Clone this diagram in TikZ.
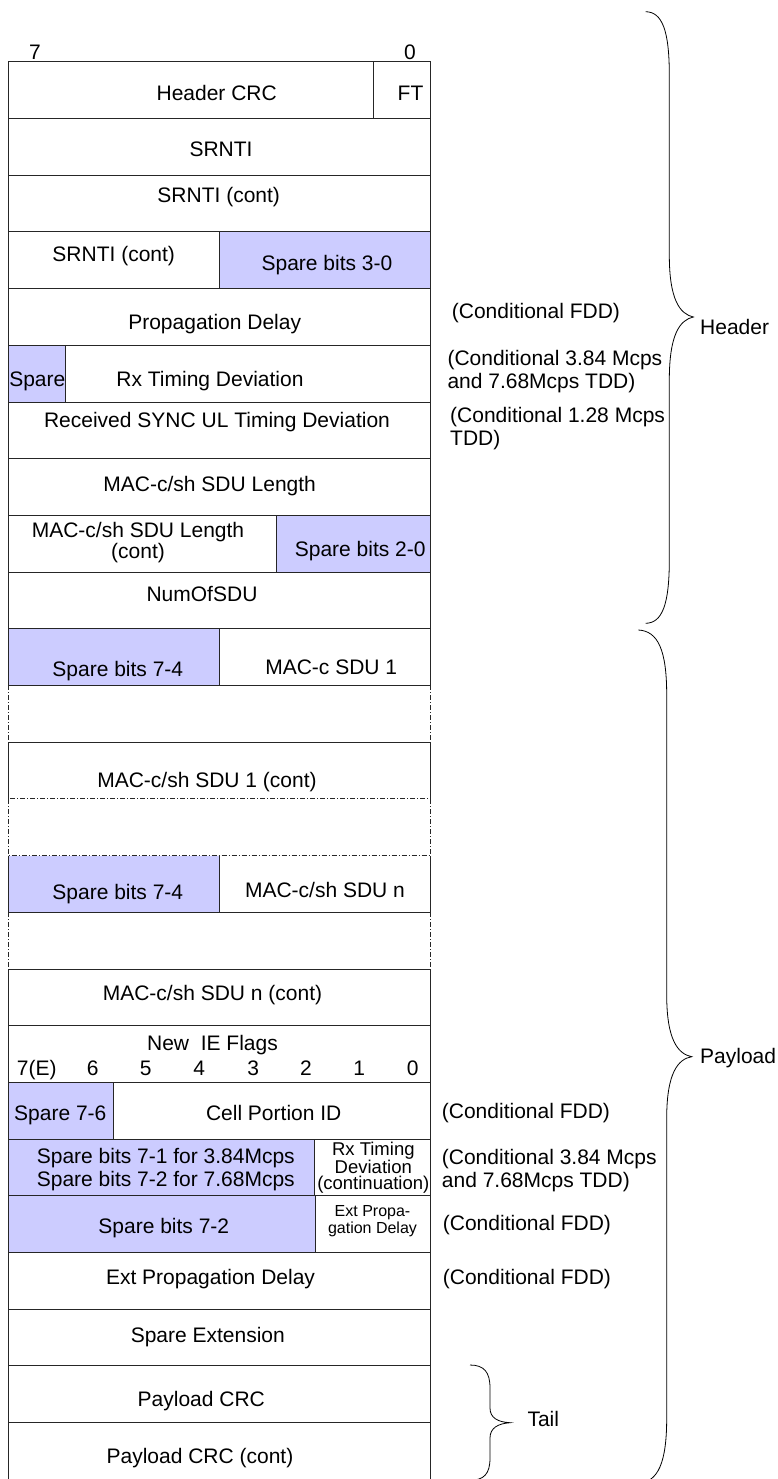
\documentclass[tikz,border=0pt]{standalone}
\usepackage{fontspec}
\setmainfont{Liberation Sans}
\definecolor{sparebg}{HTML}{CCCCFF}
\begin{document}
\begin{tikzpicture}[x=1pt,y=-1pt]
  \tikzstyle{cell}=[draw=black!85,line width=0.8pt]
  \tikzstyle{gap}=[draw=black!85,line width=0.8pt,dash pattern=on 5pt off 2pt on 1pt off 2pt]
  \tikzstyle{spare}=[fill=sparebg]
  \tikzstyle{field}=[anchor=base,inner sep=0pt,align=center,font=\fontsize{21}{21}\selectfont]
  \tikzstyle{narrow}=[anchor=base,inner sep=0pt,align=center,font=\fontsize{18.5}{16}\selectfont]
  \tikzstyle{tiny}=[anchor=base,inner sep=0pt,align=center,font=\fontsize{16}{16.5}\selectfont]
  \tikzstyle{note}=[anchor=base west,inner sep=0pt,align=left,font=\fontsize{21}{23}\selectfont]
  \tikzstyle{brace}=[draw=black,line width=0.8pt]
  \useasboundingbox (0,0) rectangle (777,1479);

  % spare fields
  \fill[spare] (219.3,231.8) rectangle (430,288.5);
  \fill[spare] (8.3,345.2) rectangle (65.7,401.9);
  \fill[spare] (276.7,515.3) rectangle (430,572);
  \fill[spare] (8.3,628.7) rectangle (219.3,685.4);
  \fill[spare] (8.3,855.5) rectangle (219.3,912.2);
  \fill[spare] (8.3,1082.3) rectangle (113.3,1139);
  \fill[spare] (8.3,1139) rectangle (314,1195.7);
  \fill[spare] (8.3,1195.7) rectangle (315.3,1252.4);

  % rows
  \foreach \t in {61.7,118.4,175.1,231.8,288.5,345.2,401.9,458.6,515.3,572.0,628.7,
                  968.9,1025.6,1082.3,1139.0,1195.7,1252.4,1309.1,1365.8,1422.5}
    \draw[cell] (8.3,\t) rectangle (430,\t+56.7);
  \draw[cell] (8.3,798.8) -- (8.3,742.1) -- (430,742.1) -- (430,798.8);
  \draw[cell] (8.3,855.5) -- (8.3,912.2) -- (430,912.2) -- (430,855.5);
  \draw[gap] (8.3,798.8) rectangle (430,855.5);
  \draw[gap] (8.3,685.4) -- (8.3,742.1) (430,685.4) -- (430,742.1);
  \draw[gap] (8.3,912.2) -- (8.3,968.9) (430,912.2) -- (430,968.9);

  % splits
  \draw[cell] (373.3,61.7) -- (373.3,118.4);
  \draw[cell] (219.3,231.8) -- (219.3,288.5);
  \draw[cell] (65.7,345.2) -- (65.7,401.9);
  \draw[cell] (276.7,515.3) -- (276.7,572);
  \draw[cell] (219.3,628.7) -- (219.3,685.4);
  \draw[cell] (219.3,855.5) -- (219.3,912.2);
  \draw[cell] (113.3,1082.3) -- (113.3,1139);
  \draw[cell] (314,1139) -- (314,1195.7);
  \draw[cell] (315.3,1195.7) -- (315.3,1252.4);

  % bit numbers
  \node[field] (msb) at (35,60) {7};
  \node[field] (lsb) at (410,60) {0};

  % header
  \node[field] (hcrc) at (216.7,100.7) {Header CRC};
  \node[field] (ft) at (410.5,100.7) {FT};
  \node[field] (srnti) at (221,156.7) {SRNTI};
  \node[field] (srntia) at (218.7,202.3) {SRNTI (cont)};
  \node[field] (srntib) at (113.7,261.7) {SRNTI (cont)};
  \node[field] (spareA) at (327,270) {Spare bits 3-0};
  \node[field] (pd) at (214.7,329.3) {Propagation Delay};
  \node[field] (spareB) at (37.3,386) {Spare};
  \node[field] (rxtd) at (210,386) {Rx Timing Deviation};
  \node[field] (sync) at (217,427.7) {Received SYNC UL Timing Deviation};
  \node[field] (len) at (209.7,491) {MAC-c/sh SDU Length};
  \node[field] (lena) at (138,558.3) {MAC-c/sh SDU Length\\(cont)};
  \node[field] (spareC) at (360.2,556.7) {Spare bits 2-0};
  \node[field] (num) at (202,601.7) {NumOfSDU};

  % payload
  \node[field] (spareD) at (117.8,676.7) {Spare bits 7-4};
  \node[field] (sdu1) at (331.2,674) {MAC-c SDU 1};
  \node[field] (sdu1c) at (207,787) {MAC-c/sh SDU 1 (cont)};
  \node[field] (spareE) at (117.8,899) {Spare bits 7-4};
  \node[field] (sdun) at (325,897.7) {MAC-c/sh SDU n};
  \node[field] (sdunc) at (212.5,1000.7) {MAC-c/sh SDU n (cont)};
  \node[field] (flags) at (212.5,1050.7) {New\ \ IE Flags};
  \foreach \x/\b [count=\i] in {36.7/7(E),92.7/6,145.7/5,199.3/4,253.3/3,306/2,359.3/1,412.7/0}
    \node[field] (flag\i) at (\x,1075) {\b};
  \node[field] (spareF) at (60.3,1120.7) {Spare 7-6};
  \node[field] (cpid) at (273.7,1120.7) {Cell Portion ID};
  \node[field,font=\fontsize{21}{23.4}\selectfont] (spareG) at (165.8,1186.7)
    {Spare bits 7-1 for 3.84Mcps\\Spare bits 7-2 for 7.68Mcps};
  \node[narrow] (rxtdc) at (373.3,1189.3) {Rx Timing\\Deviation\\(continuation)};
  \node[field] (spareH) at (163.8,1233.3) {Spare bits 7-2};
  \node[tiny] (epda) at (372.5,1233) {Ext Propa-\\gation Delay};
  \node[field] (epd) at (210.5,1284) {Ext Propagation Delay};
  \node[field] (spext) at (207.8,1342.7) {Spare Extension};
  \node[field] (pcrc) at (201.3,1406.7) {Payload CRC};
  \node[field] (pcrca) at (200,1463.3) {Payload CRC (cont)};

  % conditions
  \node[note] (condA) at (451.7,318) {(Conditional FDD)};
  \node[note] (condB) at (447.3,388.3) {(Conditional 3.84 Mcps\\and 7.68Mcps TDD)};
  \node[note] (condC) at (450,445) {(Conditional 1.28 Mcps\\TDD)};
  \node[note] (condD) at (441.7,1118.3) {(Conditional FDD)};
  \node[note] (condE) at (441.7,1187.7) {(Conditional 3.84 Mcps\\and 7.68Mcps TDD)};
  \node[note] (condF) at (442.7,1230) {(Conditional FDD)};
  \node[note] (condG) at (442.7,1284) {(Conditional FDD)};

  % braces
  \node[note] (header) at (700,334.3) {Header};
  \node[note] (payload) at (700,1063.3) {Payload};
  \node[note] (tail) at (527.3,1426.7) {Tail};
  \draw[brace] (645.7,11.7) .. controls (662,12) and (669.3,30) .. (669.3,75)
    -- (669.3,255) .. controls (669.3,300) and (680,314) .. (693.3,317)
    .. controls (680,320) and (669.3,334) .. (669.3,380)
    -- (669.3,560) .. controls (669.3,605) and (662,623) .. (645.7,623.3);
  \draw[brace] (638.3,630) .. controls (658,631) and (666.7,650) .. (666.7,695)
    -- (666.7,995) .. controls (666.7,1040) and (678,1054) .. (691.7,1056.7)
    .. controls (678,1059) and (666.7,1073) .. (666.7,1118)
    -- (666.7,1418) .. controls (666.7,1463) and (658,1482) .. (638.3,1483.4);
  \draw[brace] (470,1365) .. controls (484,1365) and (490,1372) .. (490,1388)
    -- (490,1408) .. controls (490,1418) and (498,1422) .. (510,1422.7)
    .. controls (498,1423.5) and (490,1428) .. (490,1438)
    -- (490,1458) .. controls (490,1474) and (484,1480) .. (470,1480.4);
\end{tikzpicture}
\end{document}
